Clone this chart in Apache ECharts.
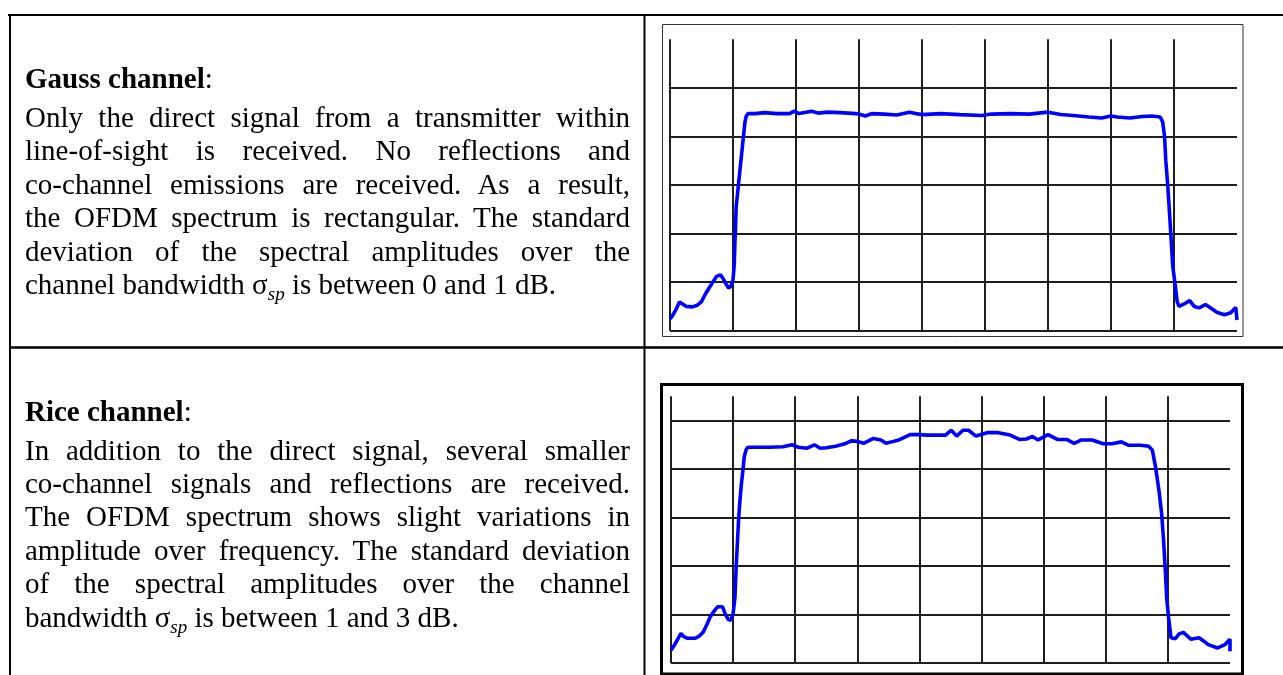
<!DOCTYPE html>
<html>
<head>
<meta charset="utf-8">
<script src="https://cdn.jsdelivr.net/npm/echarts@6/dist/echarts.min.js"></script>
<style>
  html, body { margin:0; padding:0; background:#fff; }
  #wrap { position:relative; width:1283px; height:675px; overflow:hidden; }
  #chart { position:absolute; left:0; top:0; width:1283px; height:675px; }
  .ln { position:absolute; left:25px; width:605px; height:34px; line-height:34px; font-family:"Liberation Serif","Times New Roman",serif; font-size:29px; color:#000; white-space:nowrap; text-align:justify; text-align-last:justify; }
  .ln.last { text-align-last:left; }
  .sub { font-style:italic; font-size:19px; line-height:0; position:relative; top:6px; }
  b { font-weight:bold; }
</style>
</head>
<body>
<div id="wrap">
  <div id="chart"></div>
  <div id="text"></div>
</div>
<script>
// ---- Text content ----
const gaussTitle = "Gauss channel";
const gaussLines = [
  "Only the direct signal from a transmitter within",
  "line-of-sight is received. No reflections and",
  "co-channel emissions are received. As a result,",
  "the OFDM spectrum is rectangular. The standard",
  "deviation of the spectral amplitudes over the",
  "channel bandwidth σ{sp} is between 0 and 1 dB."
];
const riceTitle = "Rice channel";
const riceLines = [
  "In addition to the direct signal, several smaller",
  "co-channel signals and reflections are received.",
  "The OFDM spectrum shows slight variations in",
  "amplitude over frequency. The standard deviation",
  "of the spectral amplitudes over the channel",
  "bandwidth σ{sp} is between 1 and 3 dB."
];

// ---- Spectrum data (x in grid divisions, level in grid divisions) ----
const gaussFreq = [0.00,0.05,0.10,0.15,0.20,0.26,0.36,0.44,0.50,0.56,0.62,0.68,0.74,0.80,0.84,0.88,0.93,0.97,1.00,1.02,1.03,1.04,1.05,1.07,1.09,1.11,1.13,1.15,1.17,1.19,1.21,1.24,1.35,1.50,1.70,1.90,1.97,2.05,2.25,2.35,2.50,2.70,2.95,3.05,3.10,3.20,3.40,3.60,3.80,3.90,4.00,4.30,4.60,4.95,5.10,5.40,5.70,6.00,6.20,6.40,6.65,6.85,7.00,7.10,7.30,7.50,7.65,7.78,7.82,7.85,7.87,7.90,7.93,7.95,7.98,8.02,8.05,8.08,8.16,8.25,8.32,8.40,8.50,8.60,8.68,8.80,8.90,8.98,9.00];
const gaussLevel = [0.24,0.33,0.45,0.59,0.55,0.50,0.49,0.53,0.60,0.75,0.88,1.00,1.12,1.15,1.08,0.98,0.88,0.92,1.05,1.35,1.80,2.10,2.55,2.80,3.05,3.30,3.55,3.80,4.05,4.30,4.42,4.47,4.47,4.49,4.47,4.47,4.52,4.47,4.52,4.48,4.50,4.49,4.47,4.44,4.42,4.47,4.46,4.44,4.50,4.47,4.45,4.47,4.45,4.43,4.46,4.47,4.46,4.50,4.45,4.43,4.40,4.38,4.42,4.40,4.38,4.41,4.42,4.40,4.30,4.00,3.50,3.00,2.40,1.98,1.33,0.93,0.60,0.50,0.55,0.62,0.50,0.47,0.54,0.45,0.38,0.33,0.37,0.48,0.22];

const riceFreq = [0.00,0.06,0.12,0.16,0.20,0.26,0.39,0.46,0.52,0.58,0.63,0.70,0.75,0.83,0.87,0.92,0.96,1.00,1.03,1.04,1.05,1.07,1.09,1.11,1.13,1.16,1.18,1.21,1.24,1.40,1.58,1.80,1.95,2.05,2.19,2.31,2.40,2.50,2.65,2.80,2.90,3.00,3.10,3.26,3.38,3.46,3.55,3.67,3.85,4.00,4.12,4.30,4.42,4.51,4.60,4.70,4.79,4.91,5.09,5.27,5.46,5.61,5.72,5.82,5.91,6.07,6.22,6.37,6.49,6.61,6.78,6.96,7.10,7.25,7.37,7.56,7.69,7.75,7.80,7.86,7.90,7.93,7.96,7.98,8.01,8.05,8.12,8.18,8.25,8.32,8.37,8.50,8.58,8.65,8.80,8.92,9.00,9.00];
const riceLevel = [0.26,0.38,0.52,0.61,0.55,0.51,0.51,0.56,0.64,0.80,0.95,1.08,1.16,1.16,1.02,0.90,0.88,1.02,1.35,1.70,2.00,2.50,3.00,3.35,3.65,4.00,4.26,4.40,4.45,4.45,4.45,4.46,4.50,4.45,4.43,4.50,4.43,4.44,4.47,4.52,4.58,4.57,4.53,4.63,4.60,4.53,4.56,4.60,4.71,4.71,4.70,4.70,4.70,4.80,4.68,4.80,4.80,4.68,4.75,4.75,4.70,4.61,4.62,4.67,4.60,4.71,4.61,4.61,4.53,4.60,4.60,4.52,4.52,4.56,4.49,4.49,4.47,4.39,4.05,3.52,3.07,2.54,1.88,1.35,0.95,0.52,0.50,0.60,0.63,0.55,0.49,0.52,0.45,0.38,0.31,0.38,0.49,0.24];

// ---- Build text ----
function lineHTML(s) {
  return s.replace("σ{sp}", 'σ<span class="sub">sp</span>');
}
const textEl = document.getElementById('text');
function addBlock(title, lines, headBase, firstBase, step) {
  const off = 26.8;
  let h = document.createElement('div');
  h.className = 'ln last';
  h.style.top = (headBase - off) + 'px';
  h.innerHTML = '<b>' + title + '</b>:';
  textEl.appendChild(h);
  lines.forEach((s, i) => {
    const d = document.createElement('div');
    d.className = 'ln' + (i === lines.length - 1 ? ' last' : '');
    d.style.top = (firstBase + i * step - off) + 'px';
    d.innerHTML = lineHTML(s);
    textEl.appendChild(d);
  });
}
addBlock(gaussTitle, gaussLines, 88, 126.7, 33.4);
addBlock(riceTitle, riceLines, 420.7, 459.3, 33.4);

// ---- Chart ----
const chart = echarts.init(document.getElementById('chart'), null, {renderer:'canvas'});
const gridLine = { color:'#1e1e1e', width:2 };
function xAx(gi) {
  return { gridIndex:gi, type:'value', min:0, max:9, interval:1,
    axisLine:{show:false}, axisTick:{show:false}, axisLabel:{show:false},
    splitLine:{show:true, showMinLine:true, showMaxLine:false, lineStyle:gridLine} };
}
function yAx(gi, max) {
  return { gridIndex:gi, type:'value', min:0, max:max, interval:1,
    axisLine:{show:false}, axisTick:{show:false}, axisLabel:{show:false},
    splitLine:{show:true, showMinLine:true, showMaxLine:false, lineStyle:gridLine} };
}
const zip = (a, b) => a.map((v, i) => [v, b[i]]);
const lineStyle = { color:'#0000ff', width:3.6 };
chart.setOption({
  animation:false,
  grid:[
    { left:670, top:39.3, width:567, height:291.4 },
    { left:671, top:396.3, width:559, height:266.7 }
  ],
  xAxis:[xAx(0), xAx(1)],
  yAxis:[yAx(0, 6), yAx(1, 5.5)],
  series:[
    { type:'line', xAxisIndex:0, yAxisIndex:0, data:zip(gaussFreq, gaussLevel), showSymbol:false, lineStyle:lineStyle, z:5 },
    { type:'line', xAxisIndex:1, yAxisIndex:1, data:zip(riceFreq, riceLevel), showSymbol:false, lineStyle:lineStyle, z:5 }
  ],
  graphic:[
    // table borders
    { type:'line', shape:{x1:8, y1:15, x2:1283, y2:15}, style:{stroke:'#000', lineWidth:2} },
    { type:'line', shape:{x1:10, y1:14, x2:10, y2:675}, style:{stroke:'#000', lineWidth:2} },
    { type:'line', shape:{x1:644.5, y1:14, x2:644.5, y2:675}, style:{stroke:'#000', lineWidth:2} },
    { type:'line', shape:{x1:9, y1:347.5, x2:1283, y2:347.5}, style:{stroke:'#000', lineWidth:2.5} },
    // chart frames
    { type:'rect', shape:{x:662.5, y:24.5, width:580.5, height:312}, style:{stroke:'#333', lineWidth:1, fill:null} },
    { type:'rect', shape:{x:661.5, y:384.5, width:581, height:289.5}, style:{stroke:'#000', lineWidth:3, fill:null} }
  ]
});
</script>
</body>
</html>
